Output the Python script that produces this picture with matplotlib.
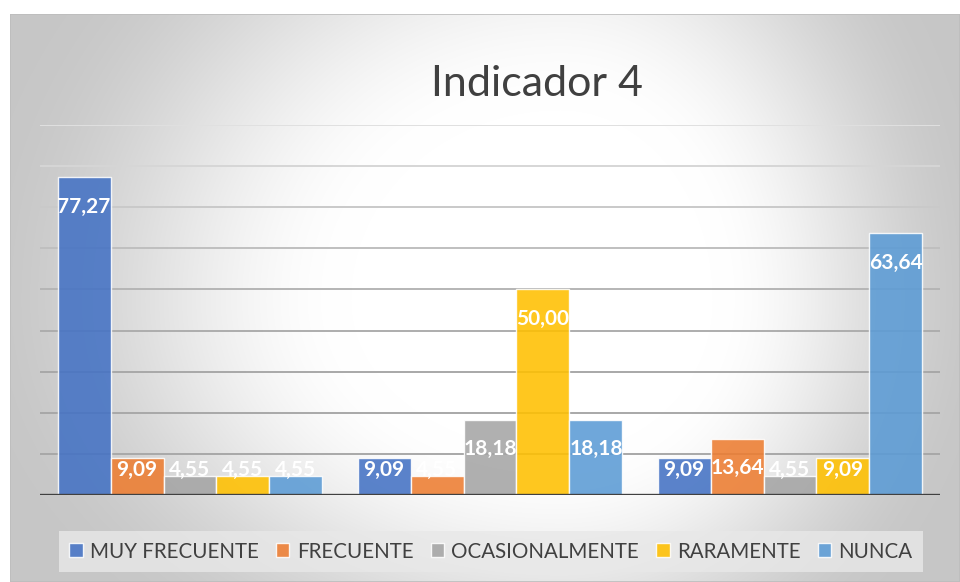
import numpy as np
import matplotlib
matplotlib.use("Agg")
import matplotlib.pyplot as plt
from matplotlib.patches import Rectangle

# ---------------- data ----------------
categories = ["Grupo 1", "Grupo 2", "Grupo 3"]
series_names = ["MUY FRECUENTE", "FRECUENTE", "OCASIONALMENTE", "RARAMENTE", "NUNCA"]
muy_frecuente = [77.27, 9.09, 9.09]
frecuente = [9.09, 4.55, 13.64]
ocasionalmente = [4.55, 18.18, 4.55]
raramente = [4.55, 50.00, 9.09]
nunca = [4.55, 18.18, 63.64]
title_text = "Indicador 4"

series_values = [muy_frecuente, frecuente, ocasionalmente, raramente, nunca]
colors = ["#4472C4", "#ED7D31", "#A5A5A5", "#FFC000", "#5B9BD5"]

W, H = 960, 582
fig = plt.figure(figsize=(W / 100, H / 100), dpi=100)
fig.patch.set_facecolor("white")

# ---------- chart-area background with soft gradient ----------
cx0, cy0, cx1, cy1 = 10, 14, 960, 582  # chart area in image px
bg = fig.add_axes([cx0 / W, 1 - cy1 / H, (cx1 - cx0) / W, (cy1 - cy0) / H], zorder=0)
bw, bh = cx1 - cx0, cy1 - cy0
xx, yy = np.meshgrid(np.arange(bw) + cx0, np.arange(bh) + cy0)
gcx, gcy = 560, 300
ga = np.where(xx < gcx, 550.0, 400.0)
gb = np.where(yy < gcy, 500.0, 400.0)
t = np.sqrt(((xx - gcx) / ga) ** 2 + ((yy - gcy) / gb) ** 2)
s = np.clip((t - 0.38) / 0.7, 0, 1)
s = 3 * s ** 2 - 2 * s ** 3
val = 1 - 0.22 * s
img = np.dstack([val, val, val])
bg.imshow(img, aspect="auto", extent=[0, 1, 0, 1], origin="upper")
bg.set_xlim(0, 1)
bg.set_ylim(0, 1)
bg.axis("off")
bg.add_patch(Rectangle((0, 0), 1, 1, transform=bg.transAxes, fill=False,
                       edgecolor="#bdbdbd", linewidth=1.2))

# ---------------- main axes ----------------
left, right, top, bottom = 40, 940, 125, 495
ax = fig.add_axes([left / W, 1 - bottom / H, (right - left) / W, (bottom - top) / H], zorder=2)
ax.set_facecolor("none")
ax.set_xlim(-0.5, len(categories) - 0.5)
ax.set_ylim(0, 90)

# gridlines (lighter towards the top)
grid_gray = {90: 0.88, 80: 0.84, 70: 0.79, 60: 0.75, 50: 0.71, 40: 0.68,
             30: 0.66, 20: 0.66, 10: 0.66}
for lvl in range(10, 100, 10):
    g = grid_gray[lvl]
    ax.axhline(lvl, color=(g, g, g), linewidth=1.4, zorder=1)

x = np.arange(len(categories))
n = len(series_names)
bar_w = 0.8833 / n
for i, (name, vals, col) in enumerate(zip(series_names, series_values, colors)):
    pos = x + (i - (n - 1) / 2) * bar_w
    ax.bar(pos, vals, width=bar_w, color=col, alpha=0.88, label=name,
           edgecolor=(1, 1, 1, 0.55), linewidth=1.0, zorder=2)
    for px, vv in zip(pos, vals):
        ly = max(vv - 7.1, 6.1)
        ax.text(px, ly, f"{vv:.2f}".replace(".", ","), ha="center", va="center",
                color="white", fontsize=15, fontweight="bold", family="Lato", zorder=4)

ax.axhline(0, color="#404040", linewidth=2.4, zorder=3)
ax.set_xticks([])
ax.set_yticks([])
for sp in ax.spines.values():
    sp.set_visible(False)

# title
fig.text(537 / W, 1 - 84 / H, title_text, ha="center", va="center",
         fontsize=31, family="Lato", fontweight="normal", color="#404040", zorder=5)

# legend
lx0, lx1, ly0, ly1 = 59, 923, 529, 574
leg = ax.legend(loc="center", ncol=5, mode="expand",
                bbox_to_anchor=((lx0 - left) / (right - left), -(ly1 - bottom) / (bottom - top),
                                (lx1 - lx0) / (right - left), (ly1 - ly0) / (bottom - top)),
                prop={"family": "Lato", "size": 14.8}, frameon=True, fancybox=False,
                handlelength=0.65, handleheight=0.65, handletextpad=0.35,
                borderpad=0.5, borderaxespad=0)
leg.get_frame().set_facecolor((0.91, 0.91, 0.91, 0.6))
leg.get_frame().set_edgecolor("none")
for txt in leg.get_texts():
    txt.set_color("#404040")

fig.savefig("out.png", dpi=100)
